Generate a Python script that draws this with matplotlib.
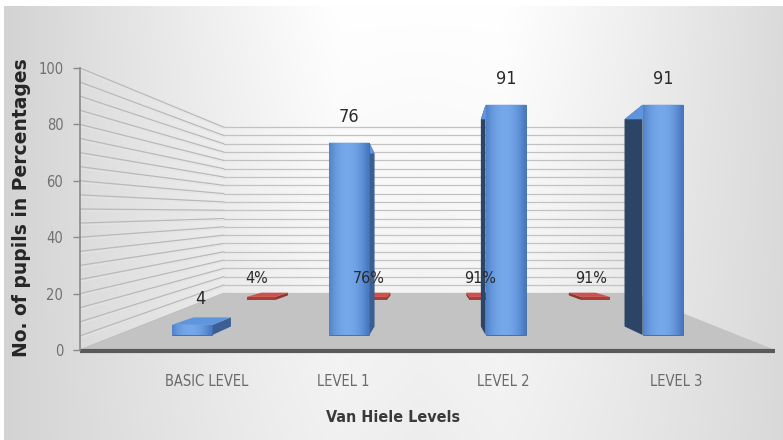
import numpy as np
import matplotlib
matplotlib.use("Agg")
import matplotlib.pyplot as plt
from matplotlib.patches import Polygon, Rectangle

# ---- data ----
categories = ["BASIC LEVEL", "LEVEL 1", "LEVEL 2", "LEVEL 3"]
pupils = [4, 76, 91, 91]                 # blue series (front row)
pupils_share = [0.04, 0.76, 0.91, 0.91]  # red series (back row, shown as %)
y_ticks = [0, 20, 40, 60, 80, 100]
y_title = "No. of pupils in Percentages"
x_title = "Van Hiele Levels"

W, H = 783, 440
fig = plt.figure(figsize=(W / 100, H / 100), dpi=100)

ax = fig.add_axes([0, 0, 1, 1])
ax.set_xlim(0, W)
ax.set_ylim(H, 0)
ax.axis("off")

# background gradient (mostly horizontal, bright centre)
yy, xx = np.mgrid[0:H, 0:W]
hx = np.abs(xx - 420) / 400.0
g = 1.0 - 0.21 * np.clip(hx - 0.2, 0, None) ** 1.1 - 0.07 * (yy / H) * (1 - np.clip(hx, 0, 1))
g = np.clip(g, 0.78, 1.0)
ax.imshow(np.dstack([g, g, g]), extent=(0, W, H, 0), zorder=0, aspect="auto")
ax.add_patch(Rectangle((0, 0), W, 6, facecolor="white", edgecolor="none", zorder=0.5))
ax.add_patch(Rectangle((0, 0), 4, H, facecolor="white", edgecolor="none", zorder=0.5))

# value axis (front left axis)
ay = fig.add_axes([80 / W, (H - 350) / H, (775 - 80) / W, (350 - 68) / H])
ay.set_xlim(0, 1)
ay.set_ylim(0, 100)
ay.patch.set_alpha(0)
for s in ["top", "right", "bottom"]:
    ay.spines[s].set_visible(False)
ay.spines["left"].set_color("#8a8a8a")
ay.spines["left"].set_linewidth(1.2)
ay.set_xticks([])
ay.set_yticks(y_ticks)
ay.set_yticklabels([str(t) for t in y_ticks], family=["DejaVu Sans"], fontstretch="condensed",
                   fontsize=10.5, color="#707070")
ay.tick_params(axis="y", colors="#8a8a8a", length=5, width=1, labelcolor="#707070", pad=7)

# bar plane axes (blue row)
bx = fig.add_axes([0, (H - 335) / H, 1, 253 / H])
bx.set_xlim(-192 / 157, (W - 192) / 157)
bx.set_ylim(0, 100)
bx.axis("off")


def pix(axes, x, y):
    X, Y = axes.transData.transform((x, y))
    return np.array([X, H - Y])


VP = np.array([430.0, 212.0])


def proj(p, s, vp=VP):
    return vp + s * (np.asarray(p, dtype=float) - vp)


# walls and floor
S_BACK = 0.589
xL_front, xR_front = 80.0, 775.0
for v in range(0, 101, 5):
    yf = pix(ay, 0, v)[1]
    pf = np.array([xL_front, yf])
    pb = proj(pf, S_BACK)
    pbr = proj(np.array([xR_front, yf]), S_BACK)
    ax.plot([pf[0], pb[0]], [pf[1], pb[1]], color="#b9b9b9", lw=0.9, zorder=1)
    ax.plot([pf[0], pb[0]], [pf[1] + 2, pb[1] + 1.5], color="#e4e4e4", lw=0.7, zorder=1)
    ax.plot([pb[0], pbr[0]], [pb[1], pbr[1]], color="#c2c2c2", lw=0.9, zorder=1)

y0 = pix(ay, 0, 0)[1]
fl = [(xL_front, y0), (xR_front, y0), tuple(proj((xR_front, y0), S_BACK)),
      tuple(proj((xL_front, y0), S_BACK))]
ax.add_patch(Polygon(fl, closed=True, facecolor="#c3c3c3", edgecolor="none", zorder=2))
ax.plot([xL_front, xR_front], [y0 + 1, y0 + 1], color="#5a5a5a", lw=3, zorder=3,
        solid_capstyle="butt")


def draw_box(corners, kx, ky, vp, front_col, top_col, side_col, z, gradient=False):
    (xl, yb), (xr, yt) = corners
    fbl, fbr, ftr, ftl = (np.array([xl, yb]), np.array([xr, yb]),
                          np.array([xr, yt]), np.array([xl, yt]))
    back = lambda p: np.array([p[0] + kx * (vp[0] - p[0]), p[1] + ky * (vp[1] - p[1])])
    cx = 0.5 * (xl + xr)
    if cx > vp[0]:
        side = [fbl, ftl, back(ftl), back(fbl)]
    else:
        side = [fbr, ftr, back(ftr), back(fbr)]
    ax.add_patch(Polygon(side, closed=True, facecolor=side_col, edgecolor="none", zorder=z))
    top = [ftl, ftr, back(ftr), back(ftl)]
    ax.add_patch(Polygon(top, closed=True, facecolor=top_col, edgecolor="none", zorder=z))
    front = Polygon([fbl, fbr, ftr, ftl], closed=True, facecolor=front_col,
                    edgecolor="#3e6aa8" if gradient else "none", lw=0.6, zorder=z + 0.1)
    ax.add_patch(front)
    if gradient:
        t = np.linspace(0, 1, 64)
        prof = 1 - 4 * (t - 0.45) ** 2
        c0 = np.array([0.29, 0.48, 0.76])
        c1 = np.array([0.46, 0.66, 0.92])
        img = c0[None, :] + (c1 - c0)[None, :] * np.clip(prof, 0, 1)[:, None]
        im = ax.imshow(img[None, :, :], extent=(xl, xr, yb, yt), aspect="auto",
                       zorder=z + 0.2)
        im.set_clip_path(front)


narrow = dict(family=["DejaVu Sans"], fontstretch="condensed")
BAR_W = 0.26
BOX_VP = np.array([430.0, 250.0])

# red back row
S_RED = 0.71
VP_RED = np.array([430.0, 214.0])
for i, v in enumerate(pupils_share):
    fbl = proj(pix(bx, i - BAR_W / 2, 0), S_RED, VP_RED)
    ftr = proj(pix(bx, i + BAR_W / 2, v), S_RED, VP_RED)
    ftr[1] = min(ftr[1], fbl[1] - 3.0)
    draw_box(((fbl[0], fbl[1]), (ftr[0], ftr[1])), 0.08, 0.09, BOX_VP,
             "#a63f3b", "#cc524e", "#8f3431", 4)
    ax.text(0.5 * (fbl[0] + ftr[0]) - 4, ftr[1] - 18, f"{v:.0%}", ha="center", va="center",
            fontsize=11.5, color="#2a2a2a", zorder=20, **narrow)

# blue front row
for i, v in enumerate(pupils):
    bl = pix(bx, i - BAR_W / 2, 0)
    tr = pix(bx, i + BAR_W / 2, v)
    cx = 0.5 * (bl[0] + tr[0])
    side_col = "#2c4567" if cx > BOX_VP[0] else "#3b5f92"
    draw_box(((bl[0], bl[1]), (tr[0], tr[1])), 0.085, 0.10, BOX_VP,
             "#4a7cc0", "#5f95dc", side_col, 6, gradient=True)
    ax.text(cx + (8 if v < 10 else 0), tr[1] - 26, str(v), ha="center", va="center",
            fontsize=13, color="#2a2a2a", zorder=20, **narrow)

# category labels
label_shift = [15, -6, -3, 13]
for i, c in enumerate(categories):
    cxp = pix(bx, i, 0)[0]
    ax.text(cxp + label_shift[i], 381, c, ha="center", va="center", fontsize=10.5,
            color="#6a6a6a", zorder=20, **narrow)

# axis titles
ax.text(393, 418, x_title, ha="center", va="center", fontsize=11.5, fontweight="bold",
        color="#3a3a3a", zorder=20, **narrow)
ax.text(22, 208, y_title, ha="center", va="center", rotation=90, fontsize=13.5,
        fontweight="bold", color="#262626", family=["DejaVu Sans"], zorder=20)

fig.savefig("out.png", dpi=100)
